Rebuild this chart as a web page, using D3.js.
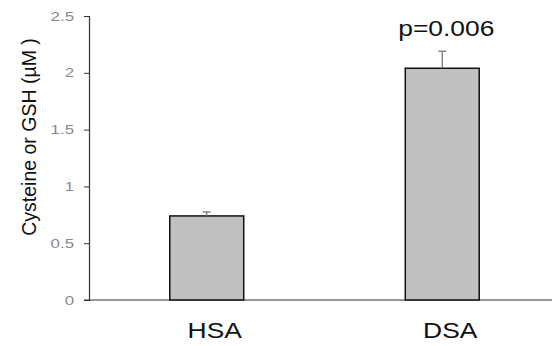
<!DOCTYPE html>
<html>
<head>
<meta charset="utf-8">
<script src="https://cdn.jsdelivr.net/npm/d3@7"></script>
<style>
 body { margin: 0; background: #fff; }
 text { font-family: "Liberation Sans", Arial, sans-serif; }
</style>
</head>
<body>
<script>
const width = 552;
const height = 346;

// data
const groups = ["HSA", "DSA"];
const means = [0.74, 2.04];
const errors = [0.035, 0.15];
const yTicks = [0, 0.5, 1, 1.5, 2, 2.5];
const yTickLabels = ["0", "0.5", "1", "1.5", "2", "2.5"];
const annotations = ["", "p=0.006"];

const plotLeft = 89, plotTop = 16, plotBottom = 300, plotRight = 560;

const svg = d3.select("body")
  .append("svg")
  .attr("width", width)
  .attr("height", height);

const x = d3.scaleBand()
  .domain(groups)
  .range([plotLeft, plotRight])
  .paddingInner(0.686)
  .paddingOuter(0.343);

const y = d3.scaleLinear()
  .domain([0, 2.5])
  .range([plotBottom, plotTop]);

// y axis
const yAxis = svg.append("g")
  .attr("transform", "translate(" + plotLeft + ",0)")
  .call(d3.axisLeft(y)
    .tickValues(yTicks)
    .tickFormat((d, i) => yTickLabels[i])
    .tickSize(5)
    .tickPadding(6.5));
yAxis.select(".domain").attr("stroke", "#333").attr("stroke-width", 1.2);
yAxis.selectAll(".tick line").attr("stroke", "#333");
yAxis.selectAll(".tick text")
  .attr("fill", "#8a8a8a")
  .attr("font-size", 13)
  .attr("font-weight", 300)
  .attr("transform", "scale(1.3,1)");

// x axis baseline
svg.append("line")
  .attr("x1", plotLeft - 5)
  .attr("x2", width)
  .attr("y1", y(0))
  .attr("y2", y(0))
  .attr("stroke", "#333")
  .attr("stroke-width", 1.2);

// bars
svg.append("g")
  .selectAll("rect")
  .data(groups)
  .join("rect")
    .attr("x", d => x(d))
    .attr("y", (d, i) => y(means[i]))
    .attr("width", x.bandwidth())
    .attr("height", (d, i) => y(0) - y(means[i]))
    .attr("fill", "#c0c0c0")
    .attr("stroke", "#111")
    .attr("stroke-width", 1.5);

// error bars (upper only)
const eb = svg.append("g").attr("stroke", "#777").attr("stroke-width", 1.3);
eb.selectAll("line.stem")
  .data(groups)
  .join("line")
    .attr("class", "stem")
    .attr("x1", d => x(d) + x.bandwidth() / 2)
    .attr("x2", d => x(d) + x.bandwidth() / 2)
    .attr("y1", (d, i) => y(means[i]))
    .attr("y2", (d, i) => y(means[i] + errors[i]));
eb.selectAll("line.cap")
  .data(groups)
  .join("line")
    .attr("class", "cap")
    .attr("x1", d => x(d) + x.bandwidth() / 2 - 4)
    .attr("x2", d => x(d) + x.bandwidth() / 2 + 4)
    .attr("y1", (d, i) => y(means[i] + errors[i]))
    .attr("y2", (d, i) => y(means[i] + errors[i]));

// category labels
svg.append("g")
  .selectAll("text")
  .data(groups)
  .join("text")
    .attr("transform", d => "translate(" + (x(d) + x.bandwidth() / 2 + 8) + ",338) scale(1.2,1)")
    .attr("text-anchor", "middle")
    .attr("font-size", 22)
    .attr("fill", "#111")
    .text(d => d);

// p-value annotation
svg.append("g")
  .selectAll("text")
  .data(groups)
  .join("text")
    .attr("transform", d => "translate(" + (x(d) + x.bandwidth() / 2 + 4) + ",36) scale(1.2,1)")
    .attr("text-anchor", "middle")
    .attr("font-size", 22)
    .attr("fill", "#111")
    .text((d, i) => annotations[i]);

// y title
svg.append("text")
  .attr("transform", "translate(36,137) rotate(-90)")
  .attr("text-anchor", "middle")
  .attr("font-size", 19.5)
  .attr("fill", "#111")
  .text("Cysteine or GSH (µM )");
</script>
</body>
</html>
